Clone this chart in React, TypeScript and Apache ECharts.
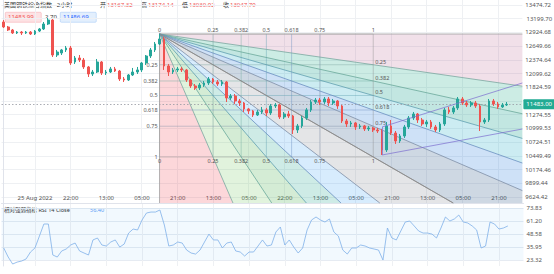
import React, { useEffect, useRef } from "react";
import * as echarts from "echarts";

// ---------- data ----------
const SLOT_COUNT = 117;
const timeLabels = ["25 Aug 2022", "22:00", "13:00", "05:00", "21:00", "13:00", "05:00", "22:00", "13:00", "05:00", "21:00", "13:00", "05:00", "21:00"];
const timeLabelIdx = [7, 15, 23, 31, 39, 47, 55, 63, 71, 79, 87, 95, 103, 111];

const priceLabelTicks = [9624.42, 9899.44, 10174.46, 10449.49, 10724.51, 10999.53, 11274.55, 11824.59, 12099.62, 12374.64, 12649.66, 12924.68, 13474.72];
const priceExtraTicks = [13199.7];
const priceHiddenTicks = [11549.57, 13199.7];
const rsiTicks = [23.32, 35.95, 48.58, 61.2, 73.83];

// [open, close, low, high]
const candles: number[][] = [
  [13134, 13034, 13014, 13174], [13034, 12974, 12953, 13054], [12974, 12913, 12893, 12994], [12913, 12933, 12893, 12953],
  [12933, 12913, 12873, 12953], [12913, 12933, 12893, 12953], [12933, 12893, 12873, 12953], [12893, 12953, 12873, 12974],
  [12953, 12994, 12933, 13014], [12994, 13094, 12974, 13134], [13094, 13174, 13074, 13214], [13174, 12472, 12432, 13194],
  [12472, 12532, 12432, 12573], [12512, 12573, 12472, 12593], [12573, 12613, 12532, 12653], [12613, 12312, 12272, 12653],
  [12332, 12412, 12292, 12452], [12412, 12372, 12332, 12472], [12372, 12232, 12192, 12412], [12232, 12091, 12031, 12252],
  [12091, 12131, 12051, 12172], [12131, 12332, 12111, 12392], [12332, 12111, 12071, 12352], [12111, 12131, 12071, 12172],
  [12131, 12192, 12111, 12232], [12192, 12151, 12131, 12232], [12151, 11991, 11951, 12172], [11991, 11971, 11931, 12031],
  [11971, 12071, 11951, 12091], [12071, 12131, 12051, 12212], [12131, 12172, 12091, 12232], [12172, 12312, 12131, 12332],
  [12312, 12452, 12272, 12472], [12452, 12573, 12412, 12613], [12573, 12693, 12532, 12733], [12693, 12793, 12673, 12893],
  [12793, 12252, 12172, 12833], [12252, 12131, 12051, 12292], [12131, 12172, 12091, 12212], [12172, 12192, 12131, 12232],
  [12192, 12172, 12131, 12232], [12172, 11971, 11931, 12192], [11971, 11851, 11811, 11991], [11851, 11811, 11771, 11891],
  [11811, 11871, 11771, 11911], [11871, 11911, 11831, 11951], [11911, 11991, 11871, 12031], [11991, 11931, 11891, 12011],
  [11931, 11891, 11851, 11971], [11891, 11931, 11851, 11971], [11931, 11610, 11530, 11951], [11610, 11650, 11570, 11690],
  [11650, 11550, 11490, 11690], [11550, 11510, 11450, 11590], [11510, 11390, 11329, 11530], [11390, 11350, 11289, 11410],
  [11350, 11269, 11229, 11370], [11269, 11329, 11249, 11370], [11329, 11370, 11289, 11430], [11370, 11309, 11249, 11410],
  [11309, 11450, 11269, 11490], [11450, 11470, 11410, 11510], [11470, 11229, 11189, 11490], [11229, 11289, 11189, 11329],
  [11289, 11249, 11209, 11350], [11249, 10969, 10888, 11269], [10969, 11049, 10908, 11089], [11049, 11209, 11009, 11249],
  [11209, 11370, 11169, 11410], [11370, 11530, 11329, 11570], [11530, 11570, 11490, 11610], [11570, 11530, 11470, 11610],
  [11530, 11590, 11490, 11630], [11590, 11510, 11450, 11630], [11510, 11550, 11470, 11590], [11550, 11450, 11390, 11570],
  [11450, 11149, 11109, 11470], [11149, 11089, 11029, 11189], [11089, 11109, 11029, 11149], [11109, 11029, 10969, 11129],
  [11029, 11049, 10989, 11089], [11049, 10989, 10948, 11069], [10989, 11009, 10948, 11049], [11009, 10969, 10928, 11029],
  [10969, 10948, 10908, 11009], [10948, 10568, 10467, 10989], [10568, 11049, 10527, 11129], [11049, 10908, 10868, 11169],
  [10908, 10748, 10688, 10948], [10748, 10848, 10708, 10888], [10848, 11029, 10808, 11069], [11029, 11209, 10989, 11249],
  [11209, 11289, 11169, 11329], [11289, 11169, 11109, 11309], [11169, 11089, 11049, 11209], [11089, 11129, 11029, 11169],
  [11129, 11029, 10989, 11169], [11029, 10969, 10928, 11069], [10969, 11089, 10928, 11129], [11089, 11370, 11049, 11410],
  [11370, 11329, 11289, 11430], [11329, 11410, 11289, 11450], [11410, 11590, 11370, 11630], [11590, 11510, 11470, 11630],
  [11510, 11470, 11430, 11550], [11470, 11510, 11430, 11550], [11510, 11450, 11410, 11550], [11450, 11129, 10948, 11490],
  [11129, 11169, 11089, 11209], [11169, 11550, 11129, 11590], [11550, 11490, 11450, 11590], [11490, 11430, 11390, 11530],
  [11430, 11470, 11410, 11510], [11470, 11483, 11450, 11530],
];

const rsiValues = [
  35.0, 26.2, 19.4, 21.3, 22.3, 24.3, 31.1, 35.0, 46.6, 58.3, 58.3, 28.2, 26.2, 32.1, 34.0, 37.9,
  39.8, 32.1, 30.1, 28.2, 42.8, 44.7, 37.9, 36.9, 40.8, 42.8, 35.9, 38.8, 49.5, 53.4, 52.5, 62.2,
  69.0, 69.9, 69.9, 71.9, 57.3, 36.9, 37.9, 40.8, 39.8, 33.0, 30.1, 29.1, 33.0, 40.8, 48.5, 42.8,
  42.8, 35.0, 39.8, 40.8, 32.1, 31.1, 27.2, 31.1, 31.1, 36.9, 42.8, 36.9, 37.9, 50.5, 55.4, 37.9,
  42.8, 35.9, 30.1, 35.0, 52.5, 62.2, 65.1, 62.2, 60.2, 63.2, 50.5, 46.6, 33.0, 29.1, 35.0, 35.0,
  37.9, 36.9, 35.0, 34.0, 33.0, 23.3, 54.4, 44.7, 42.8, 51.5, 60.2, 61.2, 56.4, 51.5, 49.5, 49.5,
  48.5, 44.7, 54.4, 65.1, 61.2, 63.2, 67.0, 60.2, 59.3, 56.4, 52.5, 35.0, 36.9, 60.2, 58.3, 53.4,
  54.4, 56.4,
];

const lastPrice = 11483.0;
const sellPrice = "11483.99";
const spreadText = "2.70";
const buyPrice = "11486.69";
const headerName = "美国钢铁综合指数 · 2小时 ·";
const ohlcLabels = ["开", "高", "低", "收"];
const ohlcValues = ["13167.32", "13174.14", "13030.92", "13047.79"];
const rsiTitle = "相对强弱指标 RSI 14 Close";
const rsiLast = "56.40";

// Fib speed resistance fan anchors: [slot index, price]
const fanStart = [35, 12893];
const fanEnd = [83, 10427];
const fanLevels = [0, 0.25, 0.382, 0.5, 0.618, 0.75, 1];
const fanLevelText = ["0", "0.25", "0.382", "0.5", "0.618", "0.75", "1"];
const priceBandColors = ["rgba(170,60,120,0.16)", "rgba(0,160,120,0.2)", "rgba(0,150,130,0.24)", "rgba(0,160,190,0.2)", "rgba(30,120,220,0.22)", "rgba(50,90,140,0.24)"];
const timeBandColors = ["rgba(242,54,69,0.2)", "rgba(120,200,100,0.22)", "rgba(76,175,80,0.24)", "rgba(8,153,129,0.2)", "rgba(33,150,243,0.18)", "rgba(120,123,134,0.2)"];
const fanLineColors = ["#9e9e9e", "#7aa7a0", "#6aa89a", "#5f9fb0", "#6a8fc0", "#7d8ea6", "#8a8a8a"];

// trend channel lines: [[slot, price], [slot, price]]
const channelLines = [
  [[85, 11029], [116.5, 11911]],
  [[85, 10467], [116.5, 10988]],
  [[85, 11029], [85, 10467]],
];

export default function App() {
  const ref = useRef<HTMLDivElement>(null);

  useEffect(() => {
    const chart = echarts.init(ref.current!, null, { renderer: "svg" });
    const cats = Array.from({ length: SLOT_COUNT }, (_, i) => String(i));
    const labelMap = new Map<number, string>(timeLabelIdx.map((k, j) => [k, timeLabels[j]]));
    const font = "Noto Sans, Noto Sans CJK SC, sans-serif";
    const gridLine = { show: true, lineStyle: { color: "#eef0f3", width: 1 } };
    const priceLabel = { fontSize: 6, color: "#555", margin: 3, hideOverlap: false, formatter: (v: number) => v.toFixed(2) };
    const GRID_LEFT = 1.5;
    const GRID_WIDTH = 522;

    const fanRender = (params: any, api: any) => {
      const cs = params.coordSys;
      const R = cs.x + cs.width;
      const B = cs.y + cs.height;
      const O = api.coord(fanStart);
      const E = api.coord(fanEnd);
      const W = E[0] - O[0];
      const H = E[1] - O[1];
      const extend = (dx: number, dy: number) => {
        let t = Infinity;
        if (dx > 0) t = Math.min(t, (R - O[0]) / dx);
        if (dy > 0) t = Math.min(t, (B - O[1]) / dy);
        return [O[0] + dx * t, O[1] + dy * t];
      };
      const pEnds = fanLevels.map((l) => extend(W, l * H));
      const tEnds = fanLevels.map((l) => extend(l * W, H));
      const onRight = (p: number[]) => Math.abs(p[0] - R) < 0.5;
      const band = (a: number[], b: number[]) => {
        const pts = [O, a];
        if (onRight(a) !== onRight(b)) pts.push([R, B]);
        pts.push(b);
        return pts;
      };
      const children: any[] = [];
      for (let k = 1; k < fanLevels.length; k++) {
        children.push({ type: "polygon", shape: { points: band(pEnds[k - 1], pEnds[k]) }, style: { fill: priceBandColors[k - 1] }, silent: true });
        children.push({ type: "polygon", shape: { points: band(tEnds[k - 1], tEnds[k]) }, style: { fill: timeBandColors[k - 1] }, silent: true });
      }
      fanLevels.forEach((l, k) => {
        const x = O[0] + l * W;
        const y = O[1] + l * H;
        children.push({ type: "line", shape: { x1: x, y1: O[1], x2: x, y2: E[1] }, style: { stroke: fanLineColors[k], lineWidth: 0.6, opacity: 0.7 }, silent: true });
        children.push({ type: "line", shape: { x1: O[0], y1: y, x2: E[0], y2: y }, style: { stroke: fanLineColors[k], lineWidth: 0.6, opacity: 0.7 }, silent: true });
      });
      fanLevels.forEach((l, k) => {
        children.push({ type: "line", shape: { x1: O[0], y1: O[1], x2: pEnds[k][0], y2: pEnds[k][1] }, style: { stroke: fanLineColors[k], lineWidth: 0.8 }, silent: true });
        children.push({ type: "line", shape: { x1: O[0], y1: O[1], x2: tEnds[k][0], y2: tEnds[k][1] }, style: { stroke: fanLineColors[k], lineWidth: 0.8 }, silent: true });
      });
      const ts = { fontSize: 5.5, fill: "#555", fontFamily: font };
      fanLevels.forEach((l, k) => {
        const x = O[0] + l * W;
        const y = O[1] + l * H;
        children.push({ type: "text", x, y: O[1] - 1.5, style: { ...ts, text: fanLevelText[k], align: "center", verticalAlign: "bottom" }, silent: true });
        children.push({ type: "text", x, y: E[1] + 1.5, style: { ...ts, text: fanLevelText[k], align: "center", verticalAlign: "top" }, silent: true });
        if (k > 0) {
          children.push({ type: "text", x: O[0] - 2, y, style: { ...ts, text: fanLevelText[k], align: "right", verticalAlign: "middle" }, silent: true });
          if (k < fanLevels.length - 1)
            children.push({ type: "text", x: E[0] + 2, y: y - 3, style: { ...ts, text: fanLevelText[k], align: "left", verticalAlign: "middle" }, silent: true });
        }
      });
      return { type: "group", children };
    };

    const baseGraphics: any[] = [
      { type: "text", left: 4, top: 2, style: { text: headerName, fontSize: 6, fill: "#333", fontFamily: font } },
      ...ohlcLabels.flatMap((l, k) => [
        { type: "text", left: 100 + k * 41, top: 2, style: { text: l, fontSize: 6, fill: "#333", fontFamily: font } },
        { type: "text", left: 107 + k * 41, top: 2, style: { text: ohlcValues[k], fontSize: 6, fill: "#ef5350", fontFamily: font } },
      ]),
      { type: "rect", left: 5, top: 12, shape: { width: 36, height: 10, r: 1 }, style: { fill: "#fde2e4", stroke: "#f5a3aa", lineWidth: 0.5 } },
      { type: "text", left: 8, top: 14, style: { text: sellPrice, fontSize: 6, fill: "#ef5350", fontFamily: font } },
      { type: "text", left: 45, top: 14, style: { text: spreadText, fontSize: 6, fill: "#333", fontFamily: font } },
      { type: "rect", left: 60, top: 12, shape: { width: 36, height: 10, r: 1 }, style: { fill: "#e3effd", stroke: "#9cc3f5", lineWidth: 0.5 } },
      { type: "text", left: 63, top: 14, style: { text: buyPrice, fontSize: 6, fill: "#2962ff", fontFamily: font } },
      { type: "text", left: 4, top: 207, style: { text: rsiTitle, fontSize: 5.5, fill: "#333", fontFamily: font } },
      { type: "text", left: 90, top: 207, style: { text: rsiLast, fontSize: 5.5, fill: "#5b9cf6", fontFamily: font } },
    ];

    const option: any = {
      animation: false,
      backgroundColor: "#ffffff",
      textStyle: { fontFamily: font },
      grid: [
        { left: GRID_LEFT, width: GRID_WIDTH, top: 0, height: 203 },
        { left: GRID_LEFT, width: GRID_WIDTH, top: 203, height: 63 },
      ],
      xAxis: [
        { type: "category", gridIndex: 0, data: cats, show: false },
        { type: "category", gridIndex: 1, data: cats, show: false },
        {
          type: "value", gridIndex: 0, min: -0.5, max: SLOT_COUNT - 0.5,
          axisLine: { show: false }, axisLabel: { show: false },
          axisTick: { show: false, customValues: timeLabelIdx },
          splitLine: gridLine,
        },
        {
          type: "value", gridIndex: 1, min: -0.5, max: SLOT_COUNT - 0.5,
          axisLine: { show: true, lineStyle: { color: "#e0e3eb" } },
          axisTick: { show: false, customValues: timeLabelIdx },
          axisLabel: {
            customValues: timeLabelIdx, fontSize: 6, color: "#555", margin: 2, hideOverlap: false,
            formatter: (v: number) => labelMap.get(Math.round(v)) ?? "",
          },
          splitLine: gridLine,
        },
      ],
      yAxis: [
        {
          type: "value", gridIndex: 0, position: "right", min: 9504, max: 13575,
          axisLine: { show: true, lineStyle: { color: "#e0e3eb" } },
          axisTick: { show: false, customValues: priceLabelTicks },
          axisLabel: { ...priceLabel, customValues: priceLabelTicks, showMinLabel: true, showMaxLabel: true },
          splitLine: gridLine,
        },
        {
          type: "value", gridIndex: 1, position: "right", min: 17.5, max: 78.7,
          axisLine: { show: true, lineStyle: { color: "#e0e3eb" } },
          axisTick: { show: false, customValues: rsiTicks },
          axisLabel: { ...priceLabel, customValues: rsiTicks },
          splitLine: { show: true, lineStyle: { color: "#e6ebf2", width: 1 } },
        },
        {
          type: "value", gridIndex: 0, min: 9504, max: 13575,
          axisLine: { show: false }, axisLabel: { show: false },
          axisTick: { show: false, customValues: priceHiddenTicks },
          splitLine: gridLine,
        },
      ],
      series: [
        { type: "custom", xAxisIndex: 2, yAxisIndex: 0, data: [[0, 0]], renderItem: fanRender, z: 1, silent: true },
        {
          type: "candlestick", xAxisIndex: 0, yAxisIndex: 0, data: candles, z: 5, barMaxWidth: 3,
          itemStyle: { color: "#26a69a", color0: "#ef5350", borderColor: "#26a69a", borderColor0: "#ef5350", borderWidth: 1 },
          markLine: {
            symbol: "none", silent: true,
            lineStyle: { color: "#9598a1", type: [1.5, 2], width: 0.8 },
            label: {
              position: "end", distance: 1, formatter: lastPrice.toFixed(2), color: "#fff",
              backgroundColor: "#22ab94", padding: [2, 3], fontSize: 6, borderRadius: 1,
            },
            data: [{ yAxis: lastPrice }],
          },
        },
        {
          type: "lines", coordinateSystem: "cartesian2d", xAxisIndex: 2, yAxisIndex: 0, z: 6, silent: true,
          lineStyle: { color: "#7e6fd0", width: 0.8, opacity: 0.9 },
          data: channelLines.map((c) => ({ coords: c })),
        },
        {
          type: "line", xAxisIndex: 1, yAxisIndex: 1, data: rsiValues, showSymbol: false, z: 5,
          lineStyle: { color: "#7fb0e8", width: 0.8 },
          markArea: { silent: true, itemStyle: { color: "rgba(33,150,243,0.06)" }, data: [[{ yAxis: 23.32 }, { yAxis: 73.83 }]] },
        },
      ],
      graphic: baseGraphics,
    };

    chart.setOption(option);

    // axis label that the axis itself drops: place it through the axis' own scale
    const extraLabels = priceExtraTicks.map((v) => ({
      type: "text",
      x: GRID_LEFT + GRID_WIDTH + 3,
      y: chart.convertToPixel({ yAxisIndex: 0 }, v) as number,
      style: { text: v.toFixed(2), fontSize: 6, fill: "#555", fontFamily: font, verticalAlign: "middle", align: "left" },
      silent: true,
    }));
    chart.setOption({ graphic: [...baseGraphics, ...extraLabels] });

    return () => chart.dispose();
  }, []);

  return <div ref={ref} style={{ position: "absolute", left: 0, top: 0, width: 554, height: 274 }} />;
}
